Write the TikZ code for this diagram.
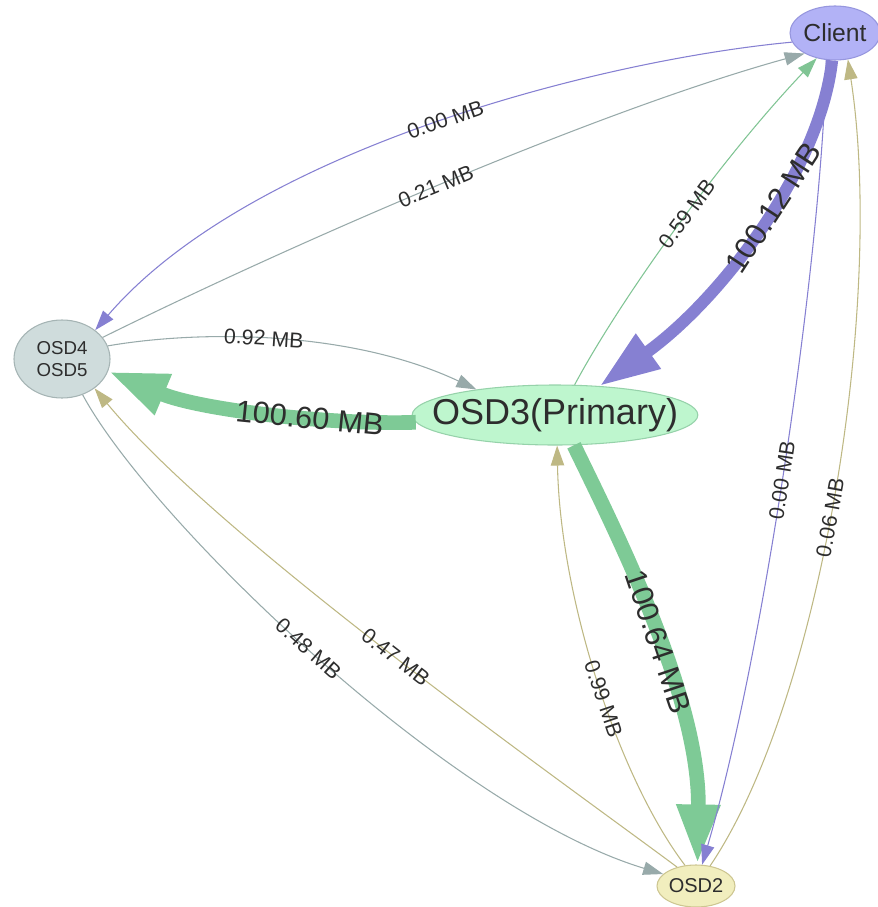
\documentclass[tikz,border=0pt]{standalone}
\usepackage{fontspec}
\setmainfont{Liberation Sans}
\usetikzlibrary{arrows.meta,shapes.geometric}
\definecolor{purp}{RGB}{134,128,210}
\definecolor{grn}{RGB}{126,202,150}
\definecolor{grnthin}{RGB}{128,196,148}
\definecolor{gry}{RGB}{152,170,170}
\definecolor{ylw}{RGB}{190,184,132}
\definecolor{clientfill}{RGB}{178,178,246}
\definecolor{clientline}{RGB}{150,150,222}
\definecolor{osdfill}{RGB}{207,220,220}
\definecolor{osdline}{RGB}{165,180,180}
\definecolor{primfill}{RGB}{190,246,206}
\definecolor{primline}{RGB}{150,210,170}
\definecolor{osd2fill}{RGB}{241,238,190}
\definecolor{osd2line}{RGB}{205,198,145}
\definecolor{txt}{RGB}{45,45,45}
\begin{document}
\begin{tikzpicture}[x=0.75pt,y=-0.75pt,
  nd/.style={ellipse, inner sep=0pt, line width=0.8pt, text=txt, align=center},
  thinE/.style={line width=0.8pt, -{Triangle[length=15pt,width=10pt]}},
  thickE/.style={line width=#1, -{Triangle[length=45pt,width=30pt]}},
  lbl/.style={sloped, text=txt, inner sep=0pt, font=\fontsize{16}{17}\selectfont},
  biglbl/.style={sloped, text=txt, inner sep=0pt, font=\fontsize{23}{24}\selectfont}]
\useasboundingbox (0,0) rectangle (878,907);

\node[nd, fill=clientfill, draw=clientline, minimum width=67.5pt, minimum height=40.5pt,
  font=\fontsize{18.5}{20}\selectfont] (client) at (835,33) {Client};
\node[nd, fill=osdfill, draw=osdline, minimum width=72pt, minimum height=58.5pt,
  font=\fontsize{14}{16}\selectfont] (osd45) at (62,359) {OSD4\\OSD5};
\node[nd, fill=primfill, draw=primline, inner xsep=-16.5pt, minimum height=45pt,
  font=\fontsize{27}{28}\selectfont] (osd3) at (555,415) {OSD3(Primary)};
\node[nd, fill=osd2fill, draw=osd2line, minimum width=58.5pt, minimum height=31.5pt,
  font=\fontsize{15}{16}\selectfont] (osd2) at (696,886) {OSD2};

% Client <-> OSD4/5
\draw[thinE, purp] (client.192) .. controls (600,60) and (250,150) .. node[lbl,pos=0.48]{0.00 MB} (osd45.41);
\draw[thinE, gry] (osd45.28) .. controls (300,240) and (600,110) .. node[lbl,pos=0.48]{0.21 MB} (client.214);

% OSD3 <-> Client
\draw[thinE, grnthin] (osd3.57) .. controls (620,300) and (720,160) .. node[lbl,pos=0.54]{0.59 MB} (client.234);
\draw[thickE=9pt, purp] (client.264) .. controls (820,170) and (720,300) .. node[biglbl,pos=0.43]{100.12 MB} (osd3.33);

% OSD4/5 <-> OSD3
\draw[thinE, gry] (osd45.16) .. controls (200,330) and (350,330) .. node[lbl,pos=0.46]{0.92 MB} (osd3.162);
\draw[thickE=11pt, grn] (osd3.183) .. controls (330,425) and (200,410) .. node[biglbl,pos=0.36]{100.60 MB} (osd45.345);

% OSD3 <-> OSD2
\draw[thickE=11pt, grn] (osd3.302) .. controls (620,540) and (700,700) .. node[biglbl,pos=0.53]{100.64 MB} (osd2.86);
\draw[thinE, ylw] (osd2.118) .. controls (620,780) and (560,600) .. node[lbl,pos=0.46]{0.99 MB} (osd3.274);

% Client <-> OSD2
\draw[thinE, purp] (client.252) .. controls (822,250) and (765,650) .. node[lbl,pos=0.53]{0.00 MB} (osd2.74);
\draw[thinE, ylw] (osd2.55) .. controls (822,700) and (885,300) .. node[lbl,pos=0.47]{0.06 MB} (client.296);

% OSD4/5 <-> OSD2
\draw[thinE, gry] (osd45.300) .. controls (150,520) and (450,810) .. node[lbl,pos=0.485]{0.48 MB} (osd2.160);
\draw[thinE, ylw] (osd2.135) .. controls (560,780) and (220,540) .. node[lbl,pos=0.49]{0.47 MB} (osd45.318);
\end{tikzpicture}
\end{document}
